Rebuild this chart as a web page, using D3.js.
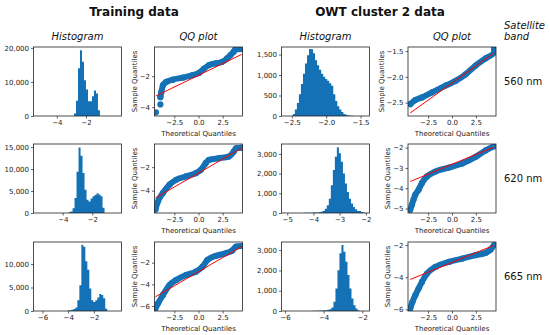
<!DOCTYPE html>
<html>
<head>
<meta charset="utf-8">
<script src="https://cdn.jsdelivr.net/npm/d3@7"></script>
<style>
body { margin: 0; background: #fff; }
svg { font-family: "DejaVu Sans", sans-serif; }
</style>
</head>
<body>
<script>

// data
const bands = ["560 nm", "620 nm", "665 nm"];

// histograms: first bin edge, bin width, counts per bin
const train_hist_starts = [-2.82, -3.605, -4.06];
const train_hist_widths = [0.137, 0.135, 0.155];
const train_hist_560 = [700, 4500, 14000, 19300, 15900, 10500, 7800, 4300, 4300, 5800, 7500, 6600, 1700];
const train_hist_620 = [150, 350, 1100, 3400, 9400, 14900, 13000, 9100, 5300, 3000, 2600, 3300, 3800, 4100, 4500, 4200, 3800, 1200];
const train_hist_665 = [100, 150, 250, 400, 730, 2300, 5500, 14100, 13700, 10600, 8800, 4800, 2300, 1900, 2300, 2900, 3600, 3400, 2700, 500];

const owt_hist_starts = [-2.485, -4.338, -4.53];
const owt_hist_widths = [0.0294, 0.077, 0.1036];
const owt_hist_560 = [50, 160, 320, 530, 780, 1030, 1280, 1485, 1635, 1630, 1530, 1360, 1240, 1130, 1030, 960, 905, 860, 800, 740, 530, 365, 240, 160, 100, 50, 30, 15, 10, 5];
const owt_hist_620 = [10, 10, 15, 15, 20, 25, 30, 40, 60, 100, 220, 390, 730, 1410, 2180, 2860, 3340, 3030, 2600, 2010, 1500, 1070, 730, 480, 310, 190, 100, 100, 50, 30];
const owt_hist_665 = [10, 10, 15, 20, 25, 30, 40, 60, 90, 170, 450, 1110, 2010, 2840, 3250, 2920, 2430, 1770, 1110, 610, 280, 120, 40];

// histogram axes
const train_hist_xdomains = [[-5.6, 0.44], [-5.97, -0.03], [-6.7, 0.15]];
const train_hist_xticks = [[-4, -2], [-4, -2], [-6, -4, -2]];
const train_hist_ymax = [20265, 15700, 14700];
const train_hist_yticks = [[0, 10000, 20000], [0, 5000, 10000, 15000], [0, 5000, 10000]];

const owt_hist_xdomains = [[-2.65, -1.37], [-5.22, -1.86], [-6.18, -1.63]];
const owt_hist_xticks = [[-2.5, -2.0, -1.5], [-5, -4, -3, -2], [-6, -4, -2]];
const owt_hist_ymax = [1684, 3505, 3400];
const owt_hist_yticks = [[0, 500, 1000, 1500], [0, 1000, 2000, 3000], [0, 1000, 2000, 3000]];

// qq plots: [theoretical, sample]
const train_qq_560 = [[-3.94, -3.35], [-3.84, -3.02], [-3.67, -2.58], [-3.33, -2.37], [-2.65, -2.22], [-1.63, -2.09], [-0.61, -1.93], [0.07, -1.78], [0.58, -1.5], [1.09, -1.28], [1.78, -1.17], [2.45, -1.07], [2.96, -0.85], [3.31, -0.63], [3.64, -0.41], [3.81, -0.26], [4.45, -0.24]];
const train_qq_560_single = [[-4.4, -4.33], [-3.94, -3.82]];
const train_qq_620 = [[-4.45, -5.6], [-4.25, -5.03], [-3.67, -4.19], [-2.99, -3.49], [-2.31, -3.07], [-1.29, -2.79], [-0.27, -2.51], [0.24, -2.23], [0.75, -1.66], [1.09, -1.38], [2.11, -1.24], [3.13, -1.1], [3.64, -0.68], [3.88, -0.39], [4.45, -0.34]];
const train_qq_665 = [[-4.45, -6.21], [-4.18, -5.75], [-3.67, -4.98], [-2.99, -4.06], [-2.31, -3.6], [-1.29, -3.14], [-0.27, -2.83], [0.41, -2.37], [0.92, -1.75], [1.78, -1.38], [2.8, -1.13], [3.47, -0.89], [3.88, -0.52], [4.45, -0.46]];

const owt_qq_560 = [[-4.37, -2.53], [-3.84, -2.45], [-3.14, -2.4], [-2.08, -2.3], [-0.68, -2.17], [0.37, -2.08], [1.42, -1.95], [2.47, -1.78], [3.53, -1.64], [4.4, -1.53], [4.4, -1.45]];
const owt_qq_620 = [[-4.37, -5.06], [-4.19, -4.81], [-4.02, -4.56], [-3.84, -4.32], [-3.49, -4.07], [-3.14, -3.74], [-2.61, -3.42], [-1.74, -3.18], [-0.33, -2.98], [1.07, -2.78], [2.47, -2.45], [3.53, -2.13], [4.4, -1.93]];
const owt_qq_665 = [[-4.37, -5.94], [-4.13, -5.53], [-3.84, -5.12], [-3.49, -4.7], [-3.14, -4.29], [-2.61, -3.77], [-1.74, -3.36], [-0.33, -3.05], [1.07, -2.84], [2.47, -2.63], [3.53, -2.48], [4.05, -2.27], [4.4, -2.0]];

// fitted reference lines: [intercept, slope]
const train_qq_lines = [[-1.94, 0.303], [-2.5, 0.476], [-2.83, 0.522]];
const owt_qq_lines = [[-2.12, 0.133], [-2.82, 0.194], [-3.08, 0.2425]];

// qq axes
const train_qq_xdomain = [-4.55, 4.55];
const owt_qq_xdomain = [-4.6, 4.6];
const qq_xticks = [-2.5, 0.0, 2.5];
const train_qq_ydomains = [[-4.57, -0.11], [-5.9, -0.03], [-6.46, -0.09]];
const train_qq_yticks = [[-4, -2], [-4, -2], [-6, -4, -2]];
const owt_qq_ydomains = [[-2.76, -1.42], [-5.22, -1.82], [-6.1, -1.81]];
const owt_qq_yticks = [[-2.5, -2.0, -1.5], [-5, -4, -3, -2], [-6, -4, -2]];


// layout
const WIDTH = 550, HEIGHT = 335;
const COL_X = [33.5, 154.5, 281.5, 408];
const ROW_Y = [47, 144, 242];
const PANEL_W = 88, PANEL_H = 69;
const BLUE = "#1471b5";
const TICK_FONT = 7;

const svg = d3.select("body")
    .append("svg")
    .attr("width", WIDTH)
    .attr("height", HEIGHT);

let clip_count = 0;

const draw_axes = function (g, x, y, xticks, yticks, xfmt, yfmt) {

    const x_axis = g.append("g")
        .attr("transform", `translate(0,${PANEL_H})`)
        .call(d3.axisBottom(x).tickValues(xticks).tickFormat(xfmt)
            .tickSize(2.5).tickSizeOuter(0).tickPadding(2));
    const y_axis = g.append("g")
        .call(d3.axisLeft(y).tickValues(yticks).tickFormat(yfmt)
            .tickSize(2.5).tickSizeOuter(0).tickPadding(2));

    [x_axis, y_axis].forEach(a => {
        a.select(".domain").remove();
        a.selectAll("text")
            .attr("fill", "#222")
            .style("font-family", "DejaVu Sans")
            .style("font-size", TICK_FONT + "px");
        a.selectAll("line").attr("stroke", "#222").attr("stroke-width", 0.7);
    });

    g.append("rect")
        .attr("width", PANEL_W)
        .attr("height", PANEL_H)
        .attr("fill", "none")
        .attr("stroke", "#222")
        .attr("stroke-width", 0.8);

    return y_axis;
};

const draw_histogram = function (col, row, start, width, counts, xdomain, xticks, ymax, yticks) {

    const g = svg.append("g")
        .attr("transform", `translate(${COL_X[col]},${ROW_Y[row]})`);

    const x = d3.scaleLinear().domain(xdomain).range([0, PANEL_W]);
    const y = d3.scaleLinear().domain([0, ymax]).range([PANEL_H, 0]);

    // bin edges with counts; last edge closes the outline at zero
    const steps = counts.map((c, i) => ({edge: start + i * width, count: c}));
    steps.push({edge: start + counts.length * width, count: 0});

    const hist_area = d3.area()
        .x(d => x(d.edge))
        .y0(y(0))
        .y1(d => y(d.count))
        .curve(d3.curveStepAfter);

    g.append("path")
        .datum(steps)
        .attr("d", hist_area)
        .attr("fill", BLUE);

    const xfmt = xticks.some(t => !Number.isInteger(t)) ? d3.format(".1f") : d3.format("d");
    draw_axes(g, x, y, xticks, yticks, xfmt, d3.format(",d"));
};

const draw_qq = function (col, row, points, singles, line, xdomain, ydomain, yticks) {

    const g = svg.append("g")
        .attr("transform", `translate(${COL_X[col]},${ROW_Y[row]})`);

    const x = d3.scaleLinear().domain(xdomain).range([0, PANEL_W]);
    const y = d3.scaleLinear().domain(ydomain).range([PANEL_H, 0]);

    const clip_id = "clip" + (clip_count++);
    g.append("clipPath")
        .attr("id", clip_id)
        .append("rect")
        .attr("width", PANEL_W)
        .attr("height", PANEL_H);

    const plot = g.append("g").attr("clip-path", `url(#${clip_id})`);

    plot.append("path")
        .datum(points)
        .attr("d", d3.line().x(d => x(d[0])).y(d => y(d[1])).curve(d3.curveMonotoneX))
        .attr("fill", "none")
        .attr("stroke", BLUE)
        .attr("stroke-width", 6)
        .attr("stroke-linecap", "round")
        .attr("stroke-linejoin", "round");

    plot.append("g")
        .selectAll("circle")
        .data(points.concat(singles))
        .enter()
        .append("circle")
        .attr("cx", d => x(d[0]))
        .attr("cy", d => y(d[1]))
        .attr("r", 3.1)
        .attr("fill", BLUE);

    const all = points.concat(singles);
    const x_lo = d3.min(all, d => d[0]), x_hi = d3.max(all, d => d[0]);
    plot.append("line")
        .attr("x1", x(x_lo)).attr("y1", y(line[0] + line[1] * x_lo))
        .attr("x2", x(x_hi)).attr("y2", y(line[0] + line[1] * x_hi))
        .attr("stroke", "red")
        .attr("stroke-width", 1);

    const yfmt = yticks.some(t => !Number.isInteger(t)) ? d3.format(".1f") : d3.format("d");
    const y_axis = draw_axes(g, x, y, qq_xticks, yticks, d3.format(".1f"), yfmt);

    // y label sits just left of the widest tick label
    const label_left = y_axis.node().getBBox().x;

    g.append("text")
        .attr("x", PANEL_W / 2)
        .attr("y", PANEL_H + 20)
        .attr("text-anchor", "middle")
        .style("font-size", "7px")
        .attr("fill", "#222")
        .text("Theoretical Quantiles");

    g.append("text")
        .attr("transform", `translate(${label_left - 3},${PANEL_H / 2}) rotate(-90)`)
        .attr("text-anchor", "middle")
        .style("font-size", "7px")
        .attr("fill", "#222")
        .text("Sample Quantiles");
};

const train_hists = [train_hist_560, train_hist_620, train_hist_665];
const owt_hists = [owt_hist_560, owt_hist_620, owt_hist_665];
const train_qqs = [train_qq_560, train_qq_620, train_qq_665];
const train_qq_singles = [train_qq_560_single, [], []];
const owt_qqs = [owt_qq_560, owt_qq_620, owt_qq_665];

bands.forEach((band, r) => {
    draw_histogram(0, r, train_hist_starts[r], train_hist_widths[r], train_hists[r],
        train_hist_xdomains[r], train_hist_xticks[r], train_hist_ymax[r], train_hist_yticks[r]);
    draw_qq(1, r, train_qqs[r], train_qq_singles[r], train_qq_lines[r],
        train_qq_xdomain, train_qq_ydomains[r], train_qq_yticks[r]);
    draw_histogram(2, r, owt_hist_starts[r], owt_hist_widths[r], owt_hists[r],
        owt_hist_xdomains[r], owt_hist_xticks[r], owt_hist_ymax[r], owt_hist_yticks[r]);
    draw_qq(3, r, owt_qqs[r], [], owt_qq_lines[r],
        owt_qq_xdomain, owt_qq_ydomains[r], owt_qq_yticks[r]);

    svg.append("text")
        .attr("x", 504)
        .attr("y", ROW_Y[r] + PANEL_H / 2 + 3.5)
        .style("font-size", "10px")
        .attr("fill", "#111")
        .text(band);
});

// titles
const add_text = function (x, y, txt, size, weight, style, anchor) {
    svg.append("text")
        .attr("x", x)
        .attr("y", y)
        .attr("text-anchor", anchor)
        .style("font-size", size + "px")
        .style("font-weight", weight)
        .style("font-style", style)
        .attr("fill", "#111")
        .text(txt);
};

add_text(134, 16, "Training data", 12, "bold", "normal", "middle");
add_text(380, 16, "OWT cluster 2 data", 12, "bold", "normal", "middle");
add_text(COL_X[0] + PANEL_W / 2, 39.5, "Histogram", 10, "normal", "italic", "middle");
add_text(COL_X[1] + PANEL_W / 2, 39.5, "QQ plot", 10, "normal", "italic", "middle");
add_text(COL_X[2] + PANEL_W / 2, 39.5, "Histogram", 10, "normal", "italic", "middle");
add_text(COL_X[3] + PANEL_W / 2, 39.5, "QQ plot", 10, "normal", "italic", "middle");
add_text(504, 29, "Satellite", 10, "normal", "italic", "start");
add_text(504, 39.5, "band", 10, "normal", "italic", "start");

</script>
</body>
</html>
